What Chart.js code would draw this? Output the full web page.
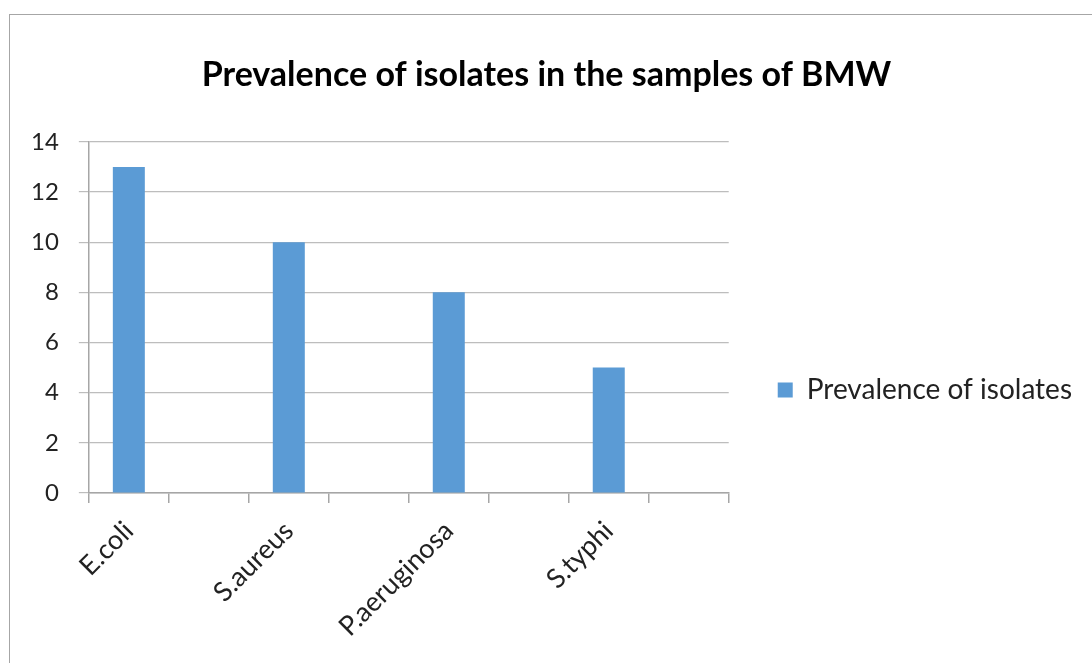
<!DOCTYPE html>
<html>
<head>
<meta charset="utf-8">
<script src="https://cdn.jsdelivr.net/npm/chart.js@4.4.1/dist/chart.umd.min.js"></script>
<style>
    html, body { margin: 0; padding: 0; background: #fff; overflow: hidden; }
    #frame { position: absolute; left: 9px; top: 14px; width: 1200px; height: 1000px; border-left: 1.5px solid #a6a6a6; border-top: 1.5px solid #a6a6a6; }
    #wrap { position: absolute; left: 0; top: 0; width: 1092px; height: 780px; }
</style>
</head>
<body>
<div id="frame"></div>
<div id="wrap"><canvas id="isolatesChart"></canvas></div>
<script>
// data (blank categories are the empty slots between bars)
const categories = ["E.coli", "", "S.aureus", "", "P.aeruginosa", "", "S.typhi", ""];
const prevalence = [13, null, 10, null, 8, null, 5, null];
const seriesName = "Prevalence of isolates";
const chartTitle = "Prevalence of isolates in the samples of BMW";
const yMin = 0;
const yMax = 14;
const yStep = 2;

const fontFamily = "Lato, 'Open Sans', sans-serif";
const gridColor = "#bdbdbd";
const axisColor = "#a6a6a6";
const barColor = "#5b9bd5";

const ctx = document.getElementById("isolatesChart").getContext("2d");

window.isolatesChart = new Chart(ctx, {
    type: "bar",
    data: {
        labels: categories,
        datasets: [
            {
                label: seriesName,
                data: prevalence,
                backgroundColor: barColor,
                borderWidth: 0,
                categoryPercentage: 1.0,
                barPercentage: 0.4,
            },
        ],
    },
    options: {
        responsive: true,
        maintainAspectRatio: false,
        animation: false,
        layout: {
            padding: { left: 11, right: 10, top: 0, bottom: 0 },
        },
        plugins: {
            title: {
                display: true,
                text: chartTitle,
                color: "#000",
                font: { family: fontFamily, size: 34, weight: "bold" },
                padding: { top: 55, bottom: 46 },
            },
            legend: {
                position: "right",
                fullSize: true,
                maxWidth: 420,
                labels: {
                    color: "#222",
                    font: { family: fontFamily, size: 28 },
                    boxWidth: 15,
                    boxHeight: 15,
                    padding: 49,
                },
            },
            tooltip: { enabled: false },
        },
        scales: {
            x: {
                grid: {
                    display: true,
                    drawOnChartArea: false,
                    drawTicks: true,
                    tickLength: 10,
                    color: axisColor,
                    lineWidth: 1.5,
                },
                border: { color: axisColor, width: 1.5 },
                ticks: {
                    color: "#222",
                    font: { family: fontFamily, size: 27 },
                    minRotation: 45,
                    maxRotation: 45,
                    padding: 12,
                    autoSkip: false,
                },
                afterFit: (scale) => {
                    // keep the axis tall so the legend sits where the original has it
                    scale.height = 287;
                    scale.paddingLeft = 0;
                    scale.paddingRight = 0;
                },
            },
            y: {
                min: yMin,
                max: yMax,
                grid: {
                    color: gridColor,
                    lineWidth: 1.2,
                    drawTicks: true,
                    tickLength: 10,
                },
                border: { color: axisColor, width: 1.5 },
                ticks: {
                    stepSize: yStep,
                    color: "#222",
                    font: { family: fontFamily, size: 24 },
                    padding: 20,
                },
            },
        },
    },
});
</script>
</body>
</html>
